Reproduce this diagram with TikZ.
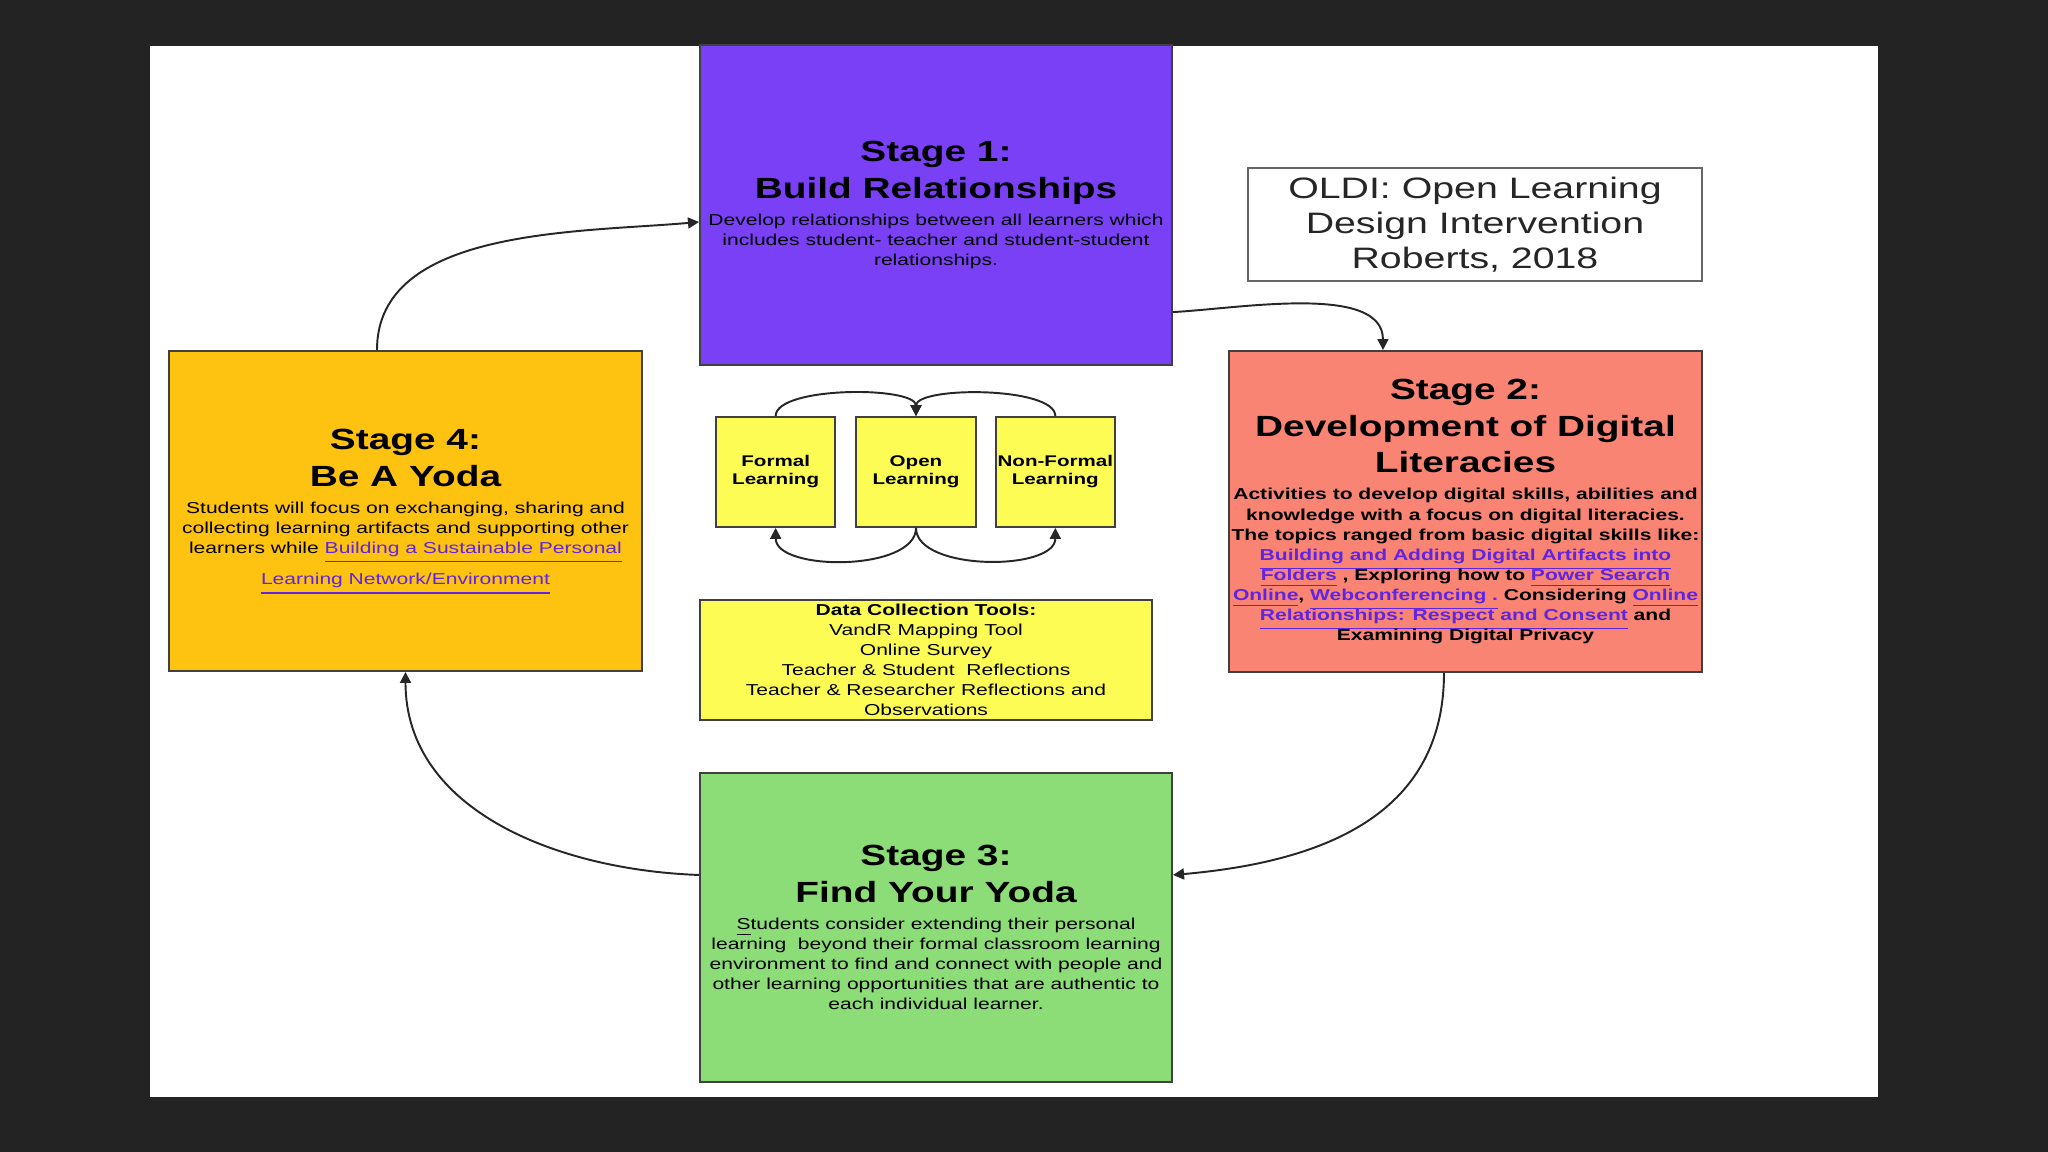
\documentclass[tikz,border=0pt]{standalone}
\usepackage{fontspec}
\setmainfont{Liberation Sans}[FakeStretch=1.33]
\usepackage{xcolor}
\usepackage{tikz}
\usetikzlibrary{arrows.meta, positioning}

\definecolor{slidebg}{HTML}{232323}
\definecolor{stageone}{HTML}{7A40F5}
\definecolor{stagetwo}{HTML}{FA8474}
\definecolor{stagethree}{HTML}{8CDC78}
\definecolor{stagefour}{HTML}{FEC210}
\definecolor{notepad}{HTML}{FCFC55}
\definecolor{linkcol}{HTML}{5F25E0}

\newcommand{\stagehead}[1]{{\fontsize{8.3}{10.4}\selectfont\bfseries #1\par}\vspace{2pt}}
\newcommand{\stagebody}[1]{{\fontsize{4.5}{5.7}\selectfont #1\par}}
\newcommand{\weblink}[1]{\textcolor{linkcol}{\smash{\underline{#1}}}}

\begin{document}
\begin{tikzpicture}[x=0.01cm, y=-0.01cm,
    stage/.style={draw=black!75, line width=0.5pt, rectangle, text width=4.72cm, inner xsep=0pt, align=flush center, minimum height=3.2cm},
    learnbox/.style={draw=black!75, line width=0.5pt, rectangle, fill=notepad, align=center, minimum width=1.19cm, minimum height=1.1cm, inner sep=0pt, font=\fontsize{4.4}{5.1}\selectfont\bfseries},
    flow/.style={-{Triangle[length=1.1mm, width=1.1mm]}, line width=0.55pt, black!85}]
    \useasboundingbox (0,0) rectangle (2048,1152);
    \fill[slidebg] (0,0) rectangle (2048,1152);
    \fill[white] (150,46) rectangle (1878,1097);

    \node[stage, fill=stageone] (stage1) at (936,205) {\stagehead{Stage 1:\\Build Relationships}\stagebody{Develop relationships between all learners which\\includes student- teacher and student-student\\relationships.}};

    \node[stage, fill=stagetwo, minimum height=3.21cm] (stage2) at (1465.5,511.5) {\stagehead{Stage 2:\\Development of Digital\\Literacies}\stagebody{\bfseries Activities to develop digital skills, abilities and\\knowledge with a focus on digital literacies.\\The topics ranged from basic digital skills like:\\\weblink{Building and Adding Digital Artifacts into}\\\weblink{Folders} , Exploring how to \weblink{Power Search}\\\weblink{Online}, \weblink{Webconferencing .} Considering \weblink{Online}\\\weblink{Relationships: Respect and Consent} and\\Examining Digital Privacy}};

    \node[stage, fill=stagethree, minimum height=3.09cm] (stage3) at (936,927.5) {\stagehead{Stage 3:\\Find Your Yoda}\stagebody{\smash{\underline{S}}tudents consider extending their personal\\learning \ beyond their formal classroom learning\\environment to find and connect with people and\\other learning opportunities that are authentic to\\each individual learner.}};

    \node[stage, fill=stagefour] (stage4) at (405.5,511) {\stagehead{Stage 4:\\Be A Yoda}\stagebody{Students will focus on exchanging, sharing and\\collecting learning artifacts and supporting other\\learners while \weblink{Building a Sustainable Personal}\\[3.2pt]\weblink{Learning Network/Environment}}\kern2.3pt};

    \node[draw=black!60, line width=0.5pt, fill=white, align=center, minimum width=4.54cm, minimum height=1.13cm, inner sep=0pt, text=black!85, font=\fontsize{8.4}{10}\selectfont] (oldi) at (1475,224.5) {OLDI: Open Learning\\Design Intervention\\Roberts, 2018};

    % learning types
    \node[learnbox, minimum width=1.2cm] (open) at (916,472) {Open\\Learning};
    \node[learnbox, left=0.19cm of open] (formal) {Formal\\Learning};
    \node[learnbox, right=0.18cm of open] (nonformal) {Non-Formal\\Learning};

    \node[draw=black!75, line width=0.5pt, fill=notepad, align=center, minimum width=4.52cm, minimum height=1.2cm, inner sep=0pt, font=\fontsize{4.5}{5.7}\selectfont] (tools) at (926,660) {{\bfseries Data Collection Tools:}\\VandR Mapping Tool\\Online Survey\\Teacher \& Student \ Reflections\\Teacher \& Researcher Reflections and\\Observations};

    % cycle
    \draw[flow] ([xshift=-0.285cm]stage4.north) to[out=90, in=185, looseness=0.9] ([yshift=-0.17cm]stage1.west);
    \draw[flow] ([yshift=-1.07cm]stage1.east) to[out=3, in=90, looseness=0.8] ([xshift=-0.825cm]stage2.north);
    \draw[flow] ([xshift=-0.215cm]stage2.south) to[out=-90, in=5, looseness=1.1] ([yshift=0.525cm]stage3.east);
    \draw[flow] ([yshift=0.525cm]stage3.west) to[out=178, in=-90] (stage4.south);

    \draw[flow] (formal.north) to[out=90, in=90, looseness=0.55] (open.north);
    \draw[flow] (nonformal.north) to[out=90, in=90, looseness=0.55] (open.north);
    \draw[flow] (open.south) to[out=-90, in=-90, looseness=0.8] (formal.south);
    \draw[flow] (open.south) to[out=-90, in=-90, looseness=0.8] (nonformal.south);
\end{tikzpicture}
\end{document}
